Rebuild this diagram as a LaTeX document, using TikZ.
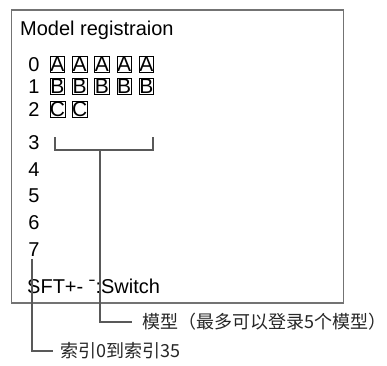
\documentclass[tikz,border=0pt]{standalone}
\usepackage{fontspec}
\setmainfont{Liberation Sans}
\newfontfamily\cjk{Noto Sans CJK SC}
\begin{document}
\begin{tikzpicture}[x=1pt,y=-1pt,
  panelbox/.style={draw=black!55, line width=1.8pt, inner sep=0pt, anchor=north west},
  lead/.style={draw=black!65, line width=1.2pt},
  txt/.style={inner sep=0pt, anchor=base west, font=\fontsize{20}{24}\selectfont},
  digit/.style={inner sep=0pt, anchor=base, font=\fontsize{20}{24}\selectfont},
  cell/.style={draw, line width=0.8pt, minimum width=14.5pt, minimum height=15.5pt, inner sep=0pt, font=\fontsize{21}{22}\selectfont},
  cn/.style={inner xsep=10pt, inner ysep=0pt, anchor=west, font=\cjk\fontsize{18}{20}\selectfont, text=black!85}]
\useasboundingbox (0,0) rectangle (387,365);
\node[panelbox, minimum width=332pt, minimum height=293pt] (panel) at (10.5,9) {};
\node[txt] (title) at (20,35) {Model registraion};
% row indices
\foreach \i/\y in {0/71.5,1/93.5,2/116.5,3/149,4/176,5/202.5,6/229,7/256}
  \node[digit] (d\i) at (34,\y) {\i};
% cells
\foreach \k in {0,...,4} {
  \node[cell] (a\k) at (57.5+22.25*\k,64.5) {A};
  \node[cell] (b\k) at (57.5+22.25*\k,86.5) {B};
}
\node[cell] (c0) at (57.5,109.5) {C};
\node[cell] (c1) at (79.75,109.5) {C};
% bracket
\coordinate (brLt) at (55,137);
\coordinate (brRt) at (153,137);
\coordinate (brM) at (100,150);
\draw[lead] (brLt) |- (brM) -| (brRt);
% footer
\node[txt] (sft) at (27,293) {SFT+- ˉ:Switch};
% labels
\node[cn] (modl) at (132,322) {模型（最多可以登录5个模型）};
\node[cn] (idx) at (50,351) {索引0到索引35};
\coordinate (idxTop) at (32,259);
\draw[lead] (brM) |- (modl.west);
\draw[lead] (idxTop) |- ([xshift=3pt]idx.west);
\end{tikzpicture}
\end{document}
